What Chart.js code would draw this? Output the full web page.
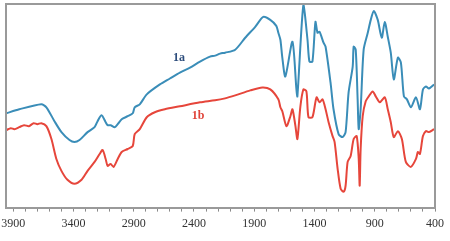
<!DOCTYPE html>
<html>
<head>
<meta charset="utf-8">
<script src="https://cdn.jsdelivr.net/npm/chart.js@4.4.0/dist/chart.umd.min.js"></script>
<style>
  html, body { margin: 0; padding: 0; background: #fff; }
  #wrap { width: 450px; height: 241px; }
</style>
</head>
<body>
<div id="wrap"><canvas id="spectro"></canvas></div>
<script>
// espectro IR, 1a arriba (azul) y 1b abajo (rojo), unidades arbitrarias
var numOnda1a = [3958, 3850, 3667, 3625, 3558, 3500, 3433, 3392, 3350, 3283, 3225, 3200, 3167, 3133, 3117, 3092, 3058, 3033, 3000, 2950, 2908, 2892, 2850, 2792, 2683, 2600, 2517, 2433, 2350, 2267, 2225, 2183, 2142, 2058, 1975, 1892, 1825, 1767, 1717, 1700, 1683, 1667, 1642, 1583, 1550, 1542, 1492, 1458, 1442, 1417, 1392, 1375, 1358, 1325, 1308, 1267, 1242, 1200, 1167, 1142, 1117, 1083, 1075, 1058, 1042, 1033, 1017, 992, 958, 933, 908, 875, 842, 817, 792, 767, 742, 708, 683, 658, 633, 600, 558, 525, 500, 475, 450, 408];
var trans1a = [95, 99, 104, 101, 87, 76, 68, 66, 68, 76, 81, 87, 93, 86, 83, 83, 81, 84, 89, 92, 95, 101, 104, 114, 124, 130, 136, 141, 147, 152, 153, 155, 156, 159, 171, 182, 192, 189, 183, 176, 169, 151, 132, 167, 119, 112, 204, 169, 147, 147, 187, 176, 177, 166, 162, 126, 99, 74, 71, 76, 116, 142, 162, 159, 109, 79, 99, 159, 176, 189, 198, 189, 171, 187, 172, 156, 129, 151, 146, 112, 109, 101, 111, 99, 119, 122, 120, 124];

var numOnda1b = [3958, 3920, 3890, 3850, 3810, 3770, 3730, 3700, 3667, 3625, 3583, 3542, 3500, 3450, 3392, 3333, 3283, 3225, 3183, 3158, 3133, 3117, 3092, 3067, 3033, 3000, 2950, 2908, 2892, 2850, 2792, 2725, 2642, 2517, 2350, 2225, 2142, 2058, 1933, 1833, 1767, 1700, 1683, 1667, 1633, 1600, 1583, 1558, 1542, 1517, 1492, 1467, 1450, 1417, 1383, 1358, 1333, 1308, 1283, 1250, 1233, 1208, 1183, 1158, 1142, 1125, 1100, 1075, 1050, 1033, 1025, 1017, 1000, 975, 950, 917, 892, 858, 817, 792, 767, 742, 708, 675, 642, 600, 558, 542, 525, 500, 475, 450, 408];
var trans1b = [78, 80, 79, 81, 83, 82, 85, 84, 85, 82, 69, 49, 37, 28, 24, 28, 37, 46, 54, 58, 49, 42, 44, 41, 49, 56, 59, 62, 74, 79, 91, 96, 99, 102, 106, 108, 110, 113, 118, 121, 119, 109, 101, 97, 82, 92, 99, 82, 69, 102, 119, 117, 91, 91, 111, 106, 109, 99, 86, 72, 66, 39, 19, 16, 22, 46, 52, 69, 72, 49, 22, 59, 92, 107, 112, 117, 112, 106, 111, 99, 86, 71, 77, 69, 46, 41, 49, 56, 54, 72, 77, 76, 79];

var marcasMayores = [3900, 3400, 2900, 2400, 1900, 1400, 900, 400];
var etiquetas = [
  { texto: '1a', x: 2525, y: 151, color: '#2d4d7c' },
  { texto: '1b', x: 2367, y: 92, color: '#e0443a' }
];

function puntos(xs, ys) {
  return xs.map(function (v, i) { return { x: v, y: ys[i] }; });
}

// marco gris y textos 1a / 1b
var marcoPlugin = {
  id: 'marco',
  afterDraw: function (chart) {
    var ctx = chart.ctx, a = chart.chartArea;
    ctx.save();
    ctx.strokeStyle = '#9a9a9a';
    ctx.lineWidth = 2;
    ctx.beginPath();
    ctx.moveTo(a.left, a.bottom);
    ctx.lineTo(a.left, a.top);
    ctx.lineTo(a.right, a.top);
    ctx.lineTo(a.right, a.bottom);
    ctx.stroke();
    ctx.font = 'bold 12px "Liberation Serif", serif';
    ctx.textAlign = 'center';
    ctx.textBaseline = 'middle';
    etiquetas.forEach(function (e) {
      ctx.fillStyle = e.color;
      ctx.fillText(e.texto, chart.scales.x.getPixelForValue(e.x), chart.scales.y.getPixelForValue(e.y));
    });
    ctx.restore();
  }
};

var ctx = document.getElementById('spectro').getContext('2d');
var grafica = new Chart(ctx, {
  type: 'line',
  data: {
    datasets: [
      {
        label: '1a',
        data: puntos(numOnda1a, trans1a),
        borderColor: '#3a8db8',
        borderWidth: 2,
        pointRadius: 0,
        tension: 0.25
      },
      {
        label: '1b',
        data: puntos(numOnda1b, trans1b),
        borderColor: '#e6463b',
        borderWidth: 2,
        pointRadius: 0,
        tension: 0.25
      }
    ]
  },
  options: {
    responsive: true,
    maintainAspectRatio: false,
    animation: false,
    layout: { padding: { left: 6, right: 15, top: 4, bottom: 5 } },
    plugins: { legend: { display: false }, tooltip: { enabled: false } },
    scales: {
      x: {
        type: 'linear',
        reverse: true,
        min: 400,
        max: 3960,
        afterBuildTicks: function (axis) {
          var t = [];
          for (var v = 400; v <= 3900; v += 100) t.push({ value: v });
          axis.ticks = t;
        },
        grid: {
          drawOnChartArea: false,
          drawTicks: true,
          tickLength: 4,
          tickColor: '#8a8a8a'
        },
        border: { display: true, color: '#9a9a9a', width: 2 },
        ticks: {
          autoSkip: false,
          maxRotation: 0,
          padding: 5,
          color: '#333',
          font: { family: '"Liberation Serif", serif', size: 12 },
          callback: function (v) {
            return marcasMayores.indexOf(v) >= 0 ? String(v) : '';
          }
        }
      },
      y: {
        display: false,
        min: 0,
        max: 205
      }
    }
  },
  plugins: [marcoPlugin]
});
</script>
</body>
</html>
